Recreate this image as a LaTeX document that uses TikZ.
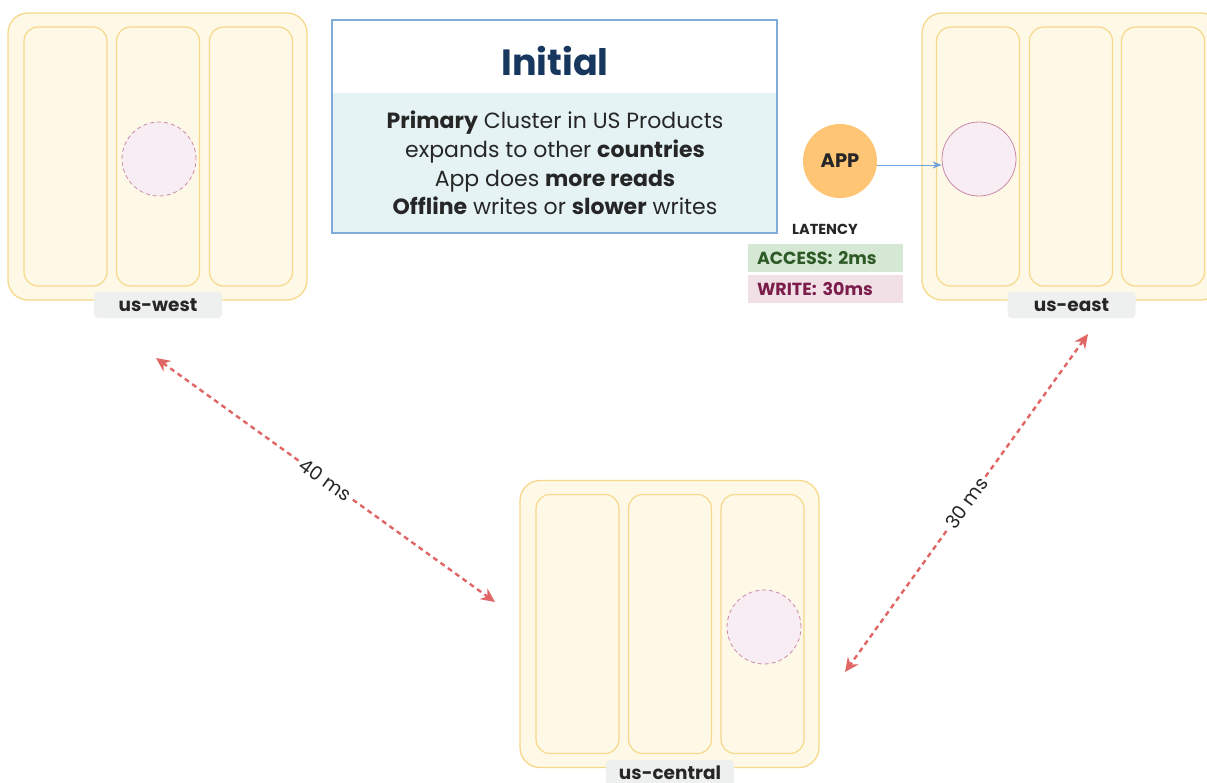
\documentclass[tikz,border=0pt]{standalone}
\usepackage{fontspec}
\setmainfont{Poppins}
\usetikzlibrary{arrows.meta}
\definecolor{zonefill}{HTML}{FEF9E6}
\definecolor{zoneline}{HTML}{F7D88A}
\definecolor{dbfill}{HTML}{F8EDF2}
\definecolor{dbline}{HTML}{C98AAA}
\definecolor{appfill}{HTML}{FDC574}
\definecolor{bluearr}{HTML}{6FA3DA}
\definecolor{boxline}{HTML}{7FAADC}
\definecolor{boxfill}{HTML}{E5F3F4}
\definecolor{titlecol}{HTML}{17375E}
\definecolor{txt}{HTML}{262626}
\definecolor{labfill}{HTML}{EEF0EF}
\definecolor{redarr}{HTML}{E06666}
\definecolor{accfill}{HTML}{D5E8D4}
\definecolor{acctxt}{HTML}{2E5A27}
\definecolor{wrfill}{HTML}{F2E0E7}
\definecolor{wrtxt}{HTML}{7B1E4C}
\tikzset{
  zone/.style={draw=zoneline, fill=zonefill, line width=1.3pt, rounded corners=20pt, minimum width=299pt, minimum height=287pt, inner sep=0pt},
  col/.style={draw=zoneline, fill=zonefill, line width=1.2pt, rounded corners=14pt, minimum width=83pt, minimum height=259pt, inner sep=0pt},
  db/.style={circle, draw=dbline, fill=dbfill, line width=0.8pt, minimum size=74pt, inner sep=0pt},
  dbdash/.style={db, dash pattern=on 4pt off 3pt},
  regionlabel/.style={fill=labfill, rounded corners=4pt, minimum width=128pt, minimum height=26pt, inner sep=0pt, text=txt, font=\fontsize{18.5}{22}\selectfont\bfseries},
  lat/.style={<->, >={Stealth[length=14pt,width=13pt]}, draw=redarr, line width=2.4pt, dash pattern=on 5pt off 4pt},
  latlabel/.style={fill=white, text=txt, inner sep=3pt, font=\fontsize{19}{22}\selectfont},
  tag/.style={minimum width=155pt, minimum height=28pt, text width=137pt, inner sep=0pt, align=left, font=\fontsize{17.5}{20}\selectfont\bfseries}
}
\begin{document}
\begin{tikzpicture}[x=1pt, y=-1pt]
\useasboundingbox (0,0) rectangle (1207,782);

% us-west
\node[zone] (west) at (157.5,156.5) {};
\node[col] (w1) at (65.5,156.5) {};
\node[col] (w2) at (158,156.5) {};
\node[col] (w3) at (251,156.5) {};
\node[dbdash] (wdb) at (159,159) {};
\node[regionlabel] (wlab) at (158,305) {us-west};

% us-east
\node[zone] (east) at (1071.5,156.5) {};
\node[col] (e1) at (978,156.5) {};
\node[col] (e2) at (1071,156.5) {};
\node[col] (e3) at (1163,156.5) {};
\node[db] (edb) at (979,159) {};
\node[regionlabel] (elab) at (1071.5,305) {us-east};

% us-central
\node[zone] (central) at (669.5,624) {};
\node[col] (c1) at (577.5,624) {};
\node[col] (c2) at (670,624) {};
\node[col] (c3) at (762.5,624) {};
\node[dbdash] (cdb) at (764,627) {};
\node[regionlabel] (clab) at (670,773) {us-central};

% title box
\node[draw=boxline, fill=boxfill, line width=1.3pt, minimum width=445pt, minimum height=213pt, inner sep=0pt] (box) at (554.5,126.5) {};
\fill[white] (333,21) rectangle (776.3,93);
\node[text=titlecol, font=\fontsize{36.5}{42}\selectfont\bfseries] (title) at (555,61) {Initial};
\node[text=txt, align=center, font=\fontsize{22}{28.7}\selectfont] (body) at (555,163)
  {\textbf{Primary} Cluster in US Products\\expands to other \textbf{countries}\\App does \textbf{more reads}\\\textbf{Offline} writes or \textbf{slower} writes};

% app
\node[circle, fill=appfill, minimum size=74pt, inner sep=0pt, text=txt, font=\fontsize{19.5}{22}\selectfont\bfseries] (app) at (840,161) {APP};
\draw[-{Stealth[length=9pt,width=7pt]}, draw=bluearr, fill=bluearr, line width=1pt] (app.east |- 0,165) -- (edb.west |- 0,165);

% latency
\node[text=txt, font=\fontsize{14.5}{17}\selectfont\bfseries] (latency) at (825,229) {LATENCY};
\node[tag, fill=accfill, text=acctxt] (access) at (825.5,258) {ACCESS: 2ms};
\node[tag, fill=wrfill, text=wrtxt] (write) at (825.5,289) {WRITE: 30ms};

% latency arrows
\coordinate (a1) at (156,358);
\coordinate (a2) at (495,602);
\coordinate (b1) at (1088,334);
\coordinate (b2) at (845,672);
\draw[lat] (a1) -- (a2) node[latlabel, pos=0.5, rotate=-35.7] (l40) {40 ms};
\draw[lat] (b1) -- (b2) node[latlabel, pos=0.5, rotate=54.3] (l30) {30 ms};
\end{tikzpicture}
\end{document}
